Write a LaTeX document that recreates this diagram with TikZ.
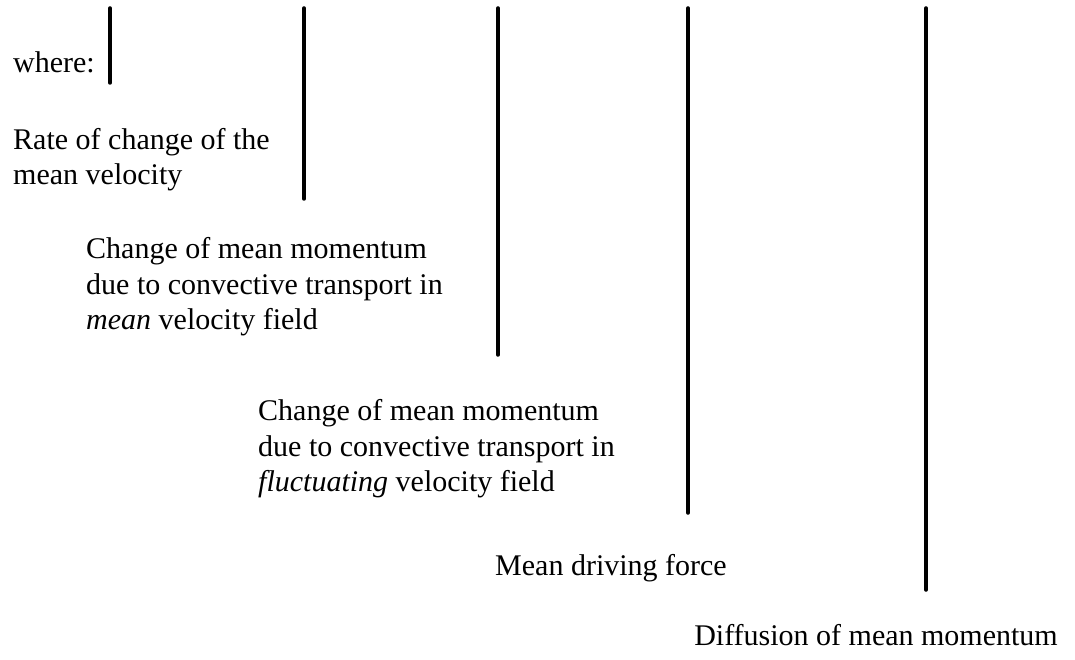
\documentclass[tikz,border=0pt]{standalone}
\usepackage{fontspec}
\setmainfont{Liberation Serif}
\begin{document}
\begin{tikzpicture}[x=1pt,y=-1pt,
  term/.style={anchor=north west, inner sep=0pt, align=left, font=\fontsize{30}{35.5}\selectfont},
  bar/.style={line width=3.5pt, line cap=round}]
\useasboundingbox (0,0) rectangle (1075,660);

% ===== Vertical bars =====
\foreach \x/\ybot in {110/83, 304/199, 498/355, 688/513, 926/590} {
    \draw[bar] (\x,8) -- (\x,\ybot);
}

% ===== Terms =====
\node[term] (where) at (13,51.5) {where:};

\node[term] (rate) at (13,128) {Rate of change of the\\mean velocity};

\node[term] (convmean) at (86,237.5) {Change of mean momentum\\due to convective transport in\\\textit{mean} velocity field};

\node[term] (convfluct) at (258,399.5) {Change of mean momentum\\due to convective transport in\\\textit{fluctuating} velocity field};

\node[term] (driving) at (495,554.5) {Mean driving force};

\node[term, anchor=north east] (diffusion) at (1058,624.5) {Diffusion of mean momentum};

\end{tikzpicture}
\end{document}
